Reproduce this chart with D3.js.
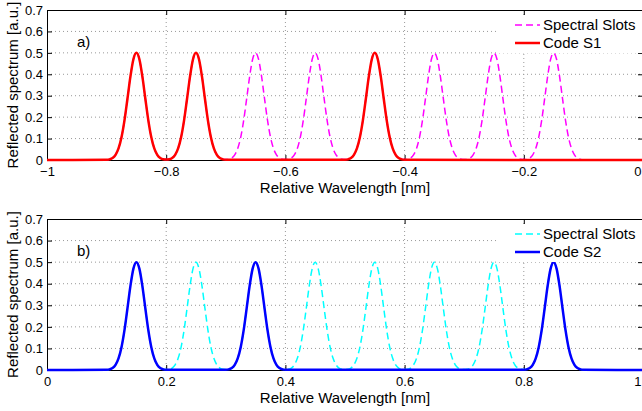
<!DOCTYPE html>
<html>
<head>
<meta charset="utf-8">
<script src="https://cdn.jsdelivr.net/npm/d3@7"></script>
<style>
  body { margin: 0; background: #fff; }
  svg { font-family: "Liberation Sans", Arial, sans-serif; }
  .grid line { stroke: #999; stroke-width: 1; stroke-dasharray: 1,3; }
</style>
</head>
<body>
<svg width="642" height="411"></svg>
<script>
// slot centres for each panel [nm]
var slotsA = [-0.85, -0.75, -0.65, -0.55, -0.45, -0.35, -0.25, -0.15];
var codeS1 = [-0.85, -0.75, -0.45];
var slotsB = [0.15, 0.25, 0.35, 0.45, 0.55, 0.65, 0.75, 0.85];
var codeS2 = [0.15, 0.35, 0.85];

// reflection profile of one slot (offset from centre, value)
var profileOffsets = [-0.05, -0.045, -0.04, -0.035, -0.03, -0.025, -0.02, -0.015, -0.01, -0.005, 0,
                      0.005, 0.01, 0.015, 0.02, 0.025, 0.03, 0.035, 0.04, 0.045, 0.05];
var profileValues = [0.001, 0.003, 0.009, 0.024, 0.054, 0.106, 0.185, 0.286, 0.39, 0.47, 0.5,
                     0.47, 0.39, 0.286, 0.185, 0.106, 0.054, 0.024, 0.009, 0.003, 0.001];

var yTicks = [0, 0.1, 0.2, 0.3, 0.4, 0.5, 0.6, 0.7];
var xTicksA = [-1, -0.8, -0.6, -0.4, -0.2, 0];
var xTicksB = [0, 0.2, 0.4, 0.6, 0.8, 1];

var svg = d3.select('svg');

// layout parameters
var plotLeft = 47, plotRight = 643;
var panels = [
    {top: 10, bottom: 160, domain: [-1, 0], ticks: xTicksA, slots: slotsA, code: codeS1,
     slotColor: '#ff00ff', codeColor: '#ff0000', tag: 'a)', codeName: 'Code S1'},
    {top: 219, bottom: 370, domain: [0, 1], ticks: xTicksB, slots: slotsB, code: codeS2,
     slotColor: '#00ffff', codeColor: '#0000ff', tag: 'b)', codeName: 'Code S2'}
];

// turn a list of centres into a line spanning the whole domain
function buildSeries(centres, domain) {
    var sums = {};
    centres.forEach(function(c) {
        profileOffsets.forEach(function(o, i) {
            var k = (c + o).toFixed(4);
            sums[k] = (sums[k] || 0) + profileValues[i];
        });
    });
    var pts = Object.keys(sums).map(function(k) { return [+k, sums[k]]; });
    pts.push([domain[0], 0], [domain[1], 0]);
    pts.sort(function(a, b) { return a[0] - b[0]; });
    return pts;
}

function fmt(d) {
    return d < 0 ? '\u2212' + Math.abs(d) : String(d);
}

panels.forEach(function(p) {
    var x = d3.scaleLinear().domain(p.domain).range([plotLeft, plotRight]);
    var y = d3.scaleLinear().domain([0, 0.7]).range([p.bottom, p.top]);
    var g = svg.append('g');

    // grid
    var grid = g.append('g').attr('class', 'grid');
    grid.selectAll('.gx').data(p.ticks.slice(1, -1)).enter().append('line')
        .attr('x1', function(d) { return x(d); }).attr('x2', function(d) { return x(d); })
        .attr('y1', p.top).attr('y2', p.bottom);
    grid.selectAll('.gy').data(yTicks.slice(1, -1)).enter().append('line')
        .attr('x1', plotLeft).attr('x2', plotRight)
        .attr('y1', function(d) { return y(d); }).attr('y2', function(d) { return y(d); });

    // axes with inward ticks, MATLAB style
    var xAxisG = g.append('g').attr('transform', 'translate(0,' + p.bottom + ')')
        .call(d3.axisBottom(x).tickValues(p.ticks).tickSizeInner(-5).tickSizeOuter(0).tickPadding(7).tickFormat(fmt));
    // last label sits at the page edge, keep it inside
    xAxisG.selectAll('.tick text')
        .filter(function(d) { return d === p.domain[1]; })
        .attr('text-anchor', 'end').attr('dx', -2);
    g.append('g').attr('transform', 'translate(0,' + p.top + ')')
        .call(d3.axisTop(x).tickValues(p.ticks).tickSizeInner(-5).tickSizeOuter(0).tickFormat(''));
    g.append('g').attr('transform', 'translate(' + plotLeft + ',0)')
        .call(d3.axisLeft(y).tickValues(yTicks).tickSizeInner(-5).tickSizeOuter(0).tickPadding(4).tickFormat(function(d) { return d3.format('.1~f')(d); }));
    g.append('g').attr('transform', 'translate(' + plotRight + ',0)')
        .call(d3.axisRight(y).tickValues(yTicks).tickSizeInner(-5).tickSizeOuter(0).tickFormat(''));
    g.selectAll('.domain').attr('stroke', '#000');
    g.selectAll('.tick line').attr('stroke', '#000');
    g.selectAll('.tick text').attr('font-size', 13).attr('fill', '#000').attr('font-family', null);

    var line = d3.line()
        .x(function(d) { return x(d[0]); })
        .y(function(d) { return y(d[1]); })
        .curve(d3.curveMonotoneX);

    g.append('path')
        .datum(buildSeries(p.slots, p.domain))
        .attr('d', line)
        .attr('fill', 'none')
        .attr('stroke', p.slotColor)
        .attr('stroke-width', 1.5)
        .attr('stroke-dasharray', '7,4');

    g.append('path')
        .datum(buildSeries(p.code, p.domain))
        .attr('d', line)
        .attr('fill', 'none')
        .attr('stroke', p.codeColor)
        .attr('stroke-width', 2.5);

    // panel tag
    g.append('text')
        .attr('x', 77).attr('y', p.top + 37)
        .attr('font-size', 15)
        .text(p.tag);

    // labels
    g.append('text')
        .attr('x', (plotLeft + plotRight) / 2).attr('y', p.bottom + 33)
        .attr('text-anchor', 'middle')
        .attr('font-size', 15)
        .text('Relative Wavelength [nm]');
    g.append('text')
        .attr('transform', 'translate(18,' + (p.top + p.bottom) / 2 + ') rotate(-90)')
        .attr('text-anchor', 'middle')
        .attr('font-size', 15)
        .text('Reflected spectrum [a.u.]');

    // legend
    var lg = g.append('g').attr('transform', 'translate(0,' + p.top + ')');
    lg.append('rect')
        .attr('x', 496).attr('y', 5).attr('width', 146).attr('height', 38)
        .attr('fill', '#fff');
    var items = [
        {name: 'Spectral Slots', color: p.slotColor, dash: '7,4', w: 1.5},
        {name: p.codeName, color: p.codeColor, dash: null, w: 2.5}
    ];
    items.forEach(function(it, i) {
        var yy = 15 + i * 18;
        lg.append('line')
            .attr('x1', 515).attr('x2', 540).attr('y1', yy).attr('y2', yy)
            .attr('stroke', it.color).attr('stroke-width', it.w)
            .attr('stroke-dasharray', it.dash);
        lg.append('text')
            .attr('x', 543).attr('y', yy + 5)
            .attr('font-size', 15)
            .text(it.name);
    });
});
</script>
</body>
</html>
